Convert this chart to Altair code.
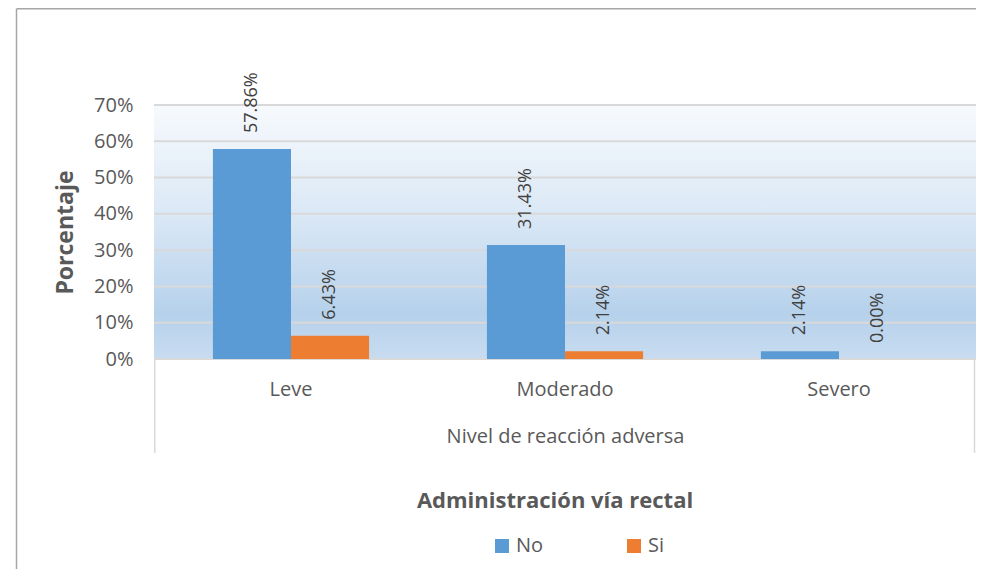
import altair as alt
import pandas as pd

categories = ["Leve", "Moderado", "Severo"]
series = ["No", "Si"]
no_values = [0.5786, 0.3143, 0.0214]
si_values = [0.0643, 0.0214, 0.0]
grid_ticks = [0.0, 0.1, 0.2, 0.3, 0.4, 0.5, 0.6, 0.7]

rows = []
for c, n, s in zip(categories, no_values, si_values):
    rows.append({"cat": c, "serie": "No", "val": n})
    rows.append({"cat": c, "serie": "Si", "val": s})
df = pd.DataFrame(rows)
grid_df = pd.DataFrame({"t": grid_ticks})
one = pd.DataFrame({"a": [0]})

W, H = 822, 254
FONT = "Open Sans"
GRAY = "#595959"

yscale = alt.Scale(domain=[0, 0.7], nice=False)
yaxis = alt.Axis(title="Porcentaje", format=".0%", values=grid_ticks,
                 labelOverlap=False, labelFlush=False,
                 labelFontSize=20, labelFont=FONT, labelColor=GRAY,
                 labelPadding=21, ticks=False, domain=False, grid=False,
                 titleFont=FONT, titleFontSize=23, titleFontWeight="bold",
                 titleColor=GRAY, titleAngle=270, titleX=-89, titleY=H / 2,
                 titleAlign="center", titleBaseline="middle")
xenc = alt.X("cat:N", sort=categories,
             scale=alt.Scale(paddingInner=0.43, paddingOuter=0.215),
             axis=alt.Axis(title="Nivel de reacción adversa", labelAngle=0,
                           labelFontSize=20, labelFont=FONT, labelColor=GRAY,
                           labelPadding=20, ticks=False, domain=False, grid=False,
                           titleFont=FONT, titleFontSize=20, titleFontWeight="normal",
                           titleColor=GRAY, titleX=W / 2, titleY=77,
                           titleBaseline="middle", titleAlign="center"))
xoff = alt.XOffset("serie:N", sort=series)

gradient = alt.Chart(one).mark_rect(
    color={"gradient": "linear", "x1": 0, "y1": 0, "x2": 0, "y2": 1,
           "stops": [{"offset": 0, "color": "#f7fafd"},
                     {"offset": 0.45, "color": "#d9e7f5"},
                     {"offset": 0.82, "color": "#b6d1eb"},
                     {"offset": 1, "color": "#c8dcf0"}]}
).encode(x=alt.value(0), x2=alt.value(W), y=alt.value(0), y2=alt.value(H))

grid = alt.Chart(grid_df).mark_rule(color="#d9d9d9", strokeWidth=2).encode(
    y=alt.Y("t:Q", scale=yscale, axis=yaxis),
    x=alt.value(0), x2=alt.value(W))

bars = alt.Chart(df).mark_bar().encode(
    x=xenc, xOffset=xoff,
    y=alt.Y("val:Q", scale=yscale, axis=yaxis),
    color=alt.Color("serie:N", sort=series,
                    scale=alt.Scale(domain=series, range=["#5b9bd5", "#ed7d31"]),
                    legend=alt.Legend(title=None, orient="none", legendX=338, legendY=431,
                                      direction="horizontal", columns=2, columnPadding=80,
                                      symbolType="square", symbolSize=196,
                                      symbolStrokeWidth=0, labelFontSize=20,
                                      labelFont=FONT, labelColor=GRAY, labelOffset=4,
                                      padding=0)))

labels = alt.Chart(df).mark_text(angle=270, align="left", baseline="middle", dx=16,
                                 fontSize=18, font=FONT, color="#404040").encode(
    x=xenc, xOffset=xoff, y=alt.Y("val:Q", scale=yscale, axis=yaxis),
    text=alt.Text("val:Q", format=".2%"))

box_left = alt.Chart(one).mark_rule(color="#d9d9d9", strokeWidth=1.5).encode(
    x=alt.value(0.75), y=alt.value(H), y2=alt.value(H + 94))
box_right = alt.Chart(one).mark_rule(color="#d9d9d9", strokeWidth=1.5).encode(
    x=alt.value(W - 1.5), y=alt.value(H), y2=alt.value(H + 94))

frame_left = alt.Chart(one).mark_rule(color="#a6a6a6", strokeWidth=1.5).encode(
    x=alt.value(-137.5), y=alt.value(-96.2), y2=alt.value(H + 210))
frame_top = alt.Chart(one).mark_rule(color="#a6a6a6", strokeWidth=1.5).encode(
    x=alt.value(-137.5), x2=alt.value(W), y=alt.value(-96.2))

legend_title = alt.Chart(one).mark_text(
    text="Administración vía rectal", font=FONT, fontSize=22, fontWeight="bold",
    color=GRAY, align="center", baseline="middle").encode(
    x=alt.value(401), y=alt.value(396))

chart = alt.layer(gradient, grid, bars, labels, box_left, box_right,
                  frame_left, frame_top, legend_title).properties(
    width=W, height=H,
    padding={"left": 146, "top": 97, "right": 0, "bottom": 210},
    autosize=alt.AutoSizeParams(type="none"),
    background="white",
).configure_view(stroke=None)

chart.save("out.html", embed_options={"renderer": "svg", "actions": False})
